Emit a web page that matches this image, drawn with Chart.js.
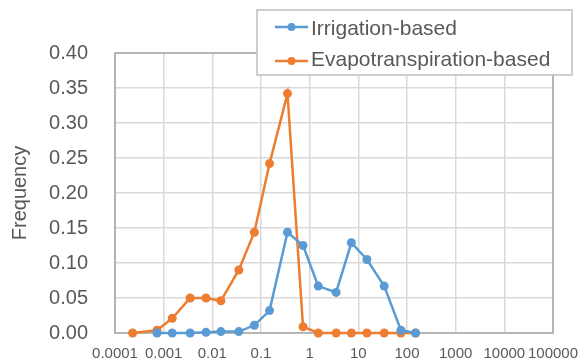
<!DOCTYPE html>
<html>
<head>
<meta charset="utf-8">
<script src="https://cdn.jsdelivr.net/npm/chart.js@4.4.0/dist/chart.umd.min.js"></script>
<style>
  body { margin: 0; background: #fff; }
  #chart { display: block; }
</style>
</head>
<body>
<canvas id="chart" width="579" height="362"></canvas>
<script>
// bin positions (x, log scale)
const binValues = [0.00023, 0.00073, 0.0015, 0.0035, 0.0074, 0.015, 0.035, 0.073, 0.15,
  0.35, 0.73, 1.5, 3.5, 7.2, 15, 34, 75, 150];

const irrigation = [null, 0, 0, 0, 0.001, 0.002, 0.002, 0.011, 0.032,
  0.144, 0.125, 0.067, 0.058, 0.129, 0.105, 0.067, 0.004, 0];

const evapotranspiration = [0, 0.004, 0.021, 0.050, 0.050, 0.046, 0.090, 0.144, 0.242,
  0.342, 0.009, 0, 0, 0, 0, 0, 0, 0];

const tickValues = [0.0001, 0.001, 0.01, 0.1, 1, 10, 100, 1000, 10000, 100000];
const tickLabels = ['0.0001', '0.001', '0.01', '0.1', '1', '10', '100', '1000', '10000', '100000'];

const seriesNames = ['Irrigation-based', 'Evapotranspiration-based'];
const BLUE = '#5b9bd5';
const ORANGE = '#ed7d31';
const TEXT = '#595959';

function toPoints(values) {
  return binValues.map((x, i) => ({ x: x, y: values[i] }));
}

// no extra room for overhanging labels, the frame is fixed
function noPadding(scale) {
  scale.paddingLeft = 0;
  scale.paddingRight = 0;
  scale.paddingTop = 0;
  scale.paddingBottom = 0;
}

// plot frame and the boxed legend that overlaps the top of the plot
const framePlugin = {
  id: 'frame',
  beforeDatasetsDraw(chart) {
    const { ctx, chartArea: a } = chart;
    ctx.save();
    ctx.strokeStyle = '#a6a6a6';
    ctx.lineWidth = 1.5;
    ctx.strokeRect(a.left, a.top, a.right - a.left, a.bottom - a.top);
    ctx.restore();
  },
  afterDraw(chart) {
    const ctx = chart.ctx;
    ctx.save();
    ctx.fillStyle = '#fff';
    ctx.fillRect(257, 10, 315, 65);
    ctx.strokeStyle = '#bfbfbf';
    ctx.lineWidth = 1.5;
    ctx.strokeRect(257, 10, 315, 65);
    const rows = [{ line: 27, text: 35 }, { line: 61, text: 66 }];
    chart.data.datasets.forEach((ds, i) => {
      const r = rows[i];
      ctx.strokeStyle = ds.borderColor;
      ctx.lineWidth = 2.5;
      ctx.beginPath();
      ctx.moveTo(275, r.line);
      ctx.lineTo(308, r.line);
      ctx.stroke();
      ctx.fillStyle = ds.borderColor;
      ctx.beginPath();
      ctx.arc(291.5, r.line, 4, 0, Math.PI * 2);
      ctx.fill();
      ctx.fillStyle = TEXT;
      ctx.font = '21px "Liberation Sans"';
      ctx.textBaseline = 'alphabetic';
      ctx.fillText(ds.label, 311, r.text);
    });
    ctx.restore();
  }
};

const ctx = document.getElementById('chart').getContext('2d');
new Chart(ctx, {
  type: 'line',
  data: {
    datasets: [
      {
        label: seriesNames[0],
        data: toPoints(irrigation),
        borderColor: BLUE,
        backgroundColor: BLUE,
        pointBackgroundColor: BLUE,
        pointBorderColor: BLUE,
        borderWidth: 2.5,
        pointRadius: 4.5,
        pointBorderWidth: 0,
        clip: false
      },
      {
        label: seriesNames[1],
        data: toPoints(evapotranspiration),
        borderColor: ORANGE,
        backgroundColor: ORANGE,
        pointBackgroundColor: ORANGE,
        pointBorderColor: ORANGE,
        borderWidth: 2.5,
        pointRadius: 4.5,
        pointBorderWidth: 0,
        clip: false
      }
    ]
  },
  options: {
    responsive: false,
    animation: false,
    layout: { padding: { top: 53, right: 26, left: 0, bottom: 0 } },
    plugins: {
      legend: { display: false },
      tooltip: { enabled: false }
    },
    scales: {
      x: {
        type: 'logarithmic',
        min: 0.0001,
        max: 100000,
        afterBuildTicks: scale => {
          scale.ticks = tickValues.map(v => ({ value: v }));
        },
        afterFit: scale => { scale.height = 29; noPadding(scale); },
        grid: { color: '#d9d9d9', lineWidth: 1.5, drawTicks: false },
        border: { display: false },
        ticks: {
          autoSkip: false,
          maxRotation: 0,
          padding: 12,
          color: TEXT,
          font: { family: 'Liberation Sans', size: 15 },
          callback: (value, index) => tickLabels[index]
        }
      },
      y: {
        min: 0,
        max: 0.4,
        afterFit: scale => { scale.width = 115; noPadding(scale); },
        grid: { color: '#d9d9d9', lineWidth: 1.5, drawTicks: false },
        border: { display: false },
        title: {
          display: true,
          text: 'Frequency',
          color: TEXT,
          font: { family: 'Liberation Sans', size: 20 },
          padding: { top: 8, bottom: 0 }
        },
        ticks: {
          stepSize: 0.05,
          padding: 27,
          color: TEXT,
          font: { family: 'Liberation Sans', size: 20 },
          callback: v => v.toFixed(2)
        }
      }
    }
  },
  plugins: [framePlugin]
});
</script>
</body>
</html>
